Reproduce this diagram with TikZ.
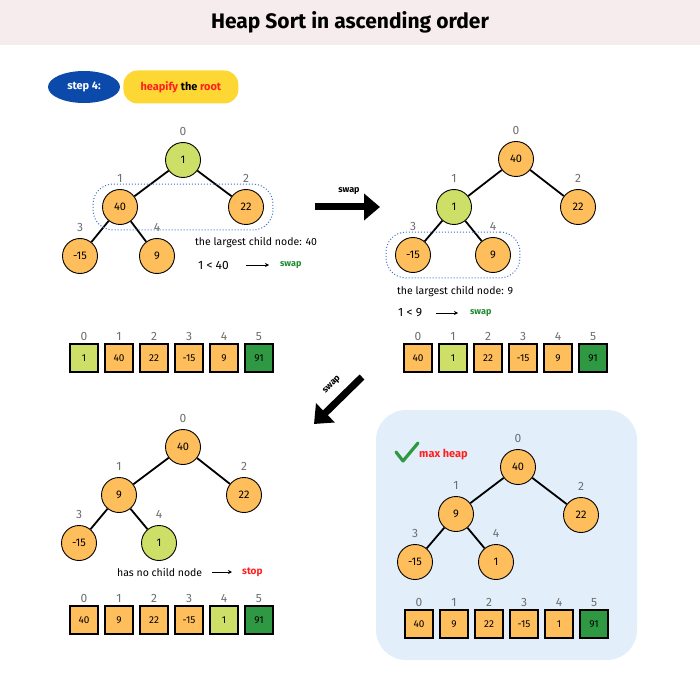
\documentclass[tikz,border=0pt]{standalone}
\usepackage{fontspec}
\setmainfont{Fira Sans}
\usetikzlibrary{calc,positioning,fit,arrows.meta,shapes.geometric}

\definecolor{titlebg}{HTML}{F6ECEE}
\definecolor{stepblue}{HTML}{0B4AAB}
\definecolor{stepyellow}{HTML}{FDD835}
\definecolor{heaporange}{HTML}{FFBE5C}
\definecolor{heaplime}{HTML}{CDDF66}
\definecolor{sortedgreen}{HTML}{2E9942}
\definecolor{panelblue}{HTML}{E3EEFB}
\definecolor{dotblue}{HTML}{3A72CC}
\definecolor{swapgreen}{HTML}{1F8A2F}
\definecolor{stopred}{HTML}{FF1F1F}
\definecolor{idxgray}{HTML}{6E6E6E}

\tikzset{
  hnode/.style={circle, draw=black, line width=0.9pt, fill=heaporange, minimum size=35pt, inner sep=0pt, font=\fontsize{11}{13}\selectfont},
  hlime/.style={hnode, fill=heaplime},
  idx/.style={text=idxgray, font=\fontsize{12}{14}\selectfont, inner sep=1pt},
  cell/.style={draw=black, line width=2.2pt, fill=heaporange, minimum size=28pt, inner sep=0pt, font=\fontsize{10}{12}\selectfont},
  cellime/.style={cell, fill=heaplime},
  celldone/.style={cell, fill=sortedgreen},
  link/.style={line width=1.8pt},
  childbox/.style={draw=dotblue, dotted, line width=1pt, rounded corners=20pt, inner xsep=9pt, inner ysep=5pt},
  note/.style={font=\fontsize{10.5}{12}\selectfont, anchor=west, inner sep=0pt},
  cmp/.style={font=\fontsize{12}{14}\selectfont, anchor=west, inner sep=0pt},
  small/.style={font=\fontsize{9}{11}\selectfont\bfseries, anchor=west, inner sep=0pt},
  thinarrow/.style={-{Stealth[length=4pt,width=4pt]}, line width=0.8pt},
  bigarrow/.style={-{Triangle[length=16pt,width=26pt]}, line width=7pt},
  stepbadge/.style={ellipse, fill=stepblue, text=white, minimum width=72pt, minimum height=32pt, inner sep=0pt, font=\fontsize{11}{13}\selectfont\bfseries},
  taskbox/.style={fill=stepyellow, rounded corners=14pt, minimum width=115pt, minimum height=33pt, inner sep=0pt, font=\fontsize{11}{13}\selectfont\bfseries},
}

\begin{document}
\begin{tikzpicture}[x=1pt, y=-1pt]
  \useasboundingbox (0,0) rectangle (700,700);
  \fill[titlebg] (0,0) rectangle (700,45);
  \node[font=\fontsize{21}{24}\selectfont\bfseries] (title) at (350,22) {Heap Sort in ascending order};

  \node[stepbadge] (step) at (84,87) {step 4:};
  \node[taskbox, right=3pt of step] (task) {\textcolor{stopred}{heapify} the \textcolor{stopred}{root}};

  % tree before the first swap
  \coordinate (originA) at (183,160);
  \node[hlime, label={[idx, label distance=5pt]above:0}] (a0) at (originA) {1};
  \node[hnode, label={[idx, label distance=5pt]above:1}] (a1) at ($(originA) + (-63, 47)$) {40};
  \node[hnode, label={[idx, label distance=5pt]above:2}] (a2) at ($(originA) + (63, 47)$) {22};
  \node[hnode, label={[idx, label distance=5pt]above:3}] (a3) at ($(originA) + (-103, 96)$) {-15};
  \node[hnode, label={[idx, label distance=5pt]above:4}] (a4) at ($(originA) + (-26, 96)$) {9};
  \draw[link] (a0) -- (a1);
  \draw[link] (a0) -- (a2);
  \draw[link] (a1) -- (a3);
  \draw[link] (a1) -- (a4);
  \node[childbox, fit=(a1)(a2)] (kidsA) {};
  \node[note] (largA) at (195,243) {the largest child node: 40};
  \node[cmp] (cmpA) at (198,265) {1 < 40};
  \node[small, text=swapgreen] (resA) at (280,265) {swap};
  \draw[thinarrow, shorten <=17pt, shorten >=11pt] (cmpA) -- (resA);

  % swap arrow to the right
  \coordinate (swapR1) at (315,207);
  \coordinate (swapR2) at (380,207);
  \draw[bigarrow] (swapR1) -- (swapR2);
  \node[small, anchor=center] (swapRlab) at (349,191) {swap};

  % tree after the first swap
  \coordinate (originB) at (516,159);
  \node[hnode, label={[idx, label distance=5pt]above:0}] (b0) at (originB) {40};
  \node[hlime, label={[idx, label distance=5pt]above:1}] (b1) at ($(originB) + (-62, 48)$) {1};
  \node[hnode, label={[idx, label distance=5pt]above:2}] (b2) at ($(originB) + (62, 48)$) {22};
  \node[hnode, label={[idx, label distance=5pt]above:3}] (b3) at ($(originB) + (-103, 96)$) {-15};
  \node[hnode, label={[idx, label distance=5pt]above:4}] (b4) at ($(originB) + (-23, 96)$) {9};
  \draw[link] (b0) -- (b1);
  \draw[link] (b0) -- (b2);
  \draw[link] (b1) -- (b3);
  \draw[link] (b1) -- (b4);
  \node[childbox, fit=(b3)(b4)] (kidsB) {};
  \node[note] (largB) at (397,292) {the largest child node: 9};
  \node[cmp] (cmpB) at (398,313) {1 < 9};
  \node[small, text=swapgreen] (resB) at (470,313) {swap};
  \draw[thinarrow, shorten <=14pt, shorten >=12pt] (cmpB) -- (resB);

  % arrays of the first row
  \node[cellime, label={[idx, label distance=1pt]above:0}] (arrA0) at (84,358) {1};
  \node[cell, label={[idx, label distance=1pt]above:1}] (arrA1) at ($(arrA0) + (35, 0)$) {40};
  \node[cell, label={[idx, label distance=1pt]above:2}] (arrA2) at ($(arrA0) + (70, 0)$) {22};
  \node[cell, label={[idx, label distance=1pt]above:3}] (arrA3) at ($(arrA0) + (105, 0)$) {-15};
  \node[cell, label={[idx, label distance=1pt]above:4}] (arrA4) at ($(arrA0) + (140, 0)$) {9};
  \node[celldone, label={[idx, label distance=1pt]above:5}] (arrA5) at ($(arrA0) + (175, 0)$) {91};

  \node[cell, label={[idx, label distance=1pt]above:0}] (arrB0) at (418,358) {40};
  \node[cellime, label={[idx, label distance=1pt]above:1}] (arrB1) at ($(arrB0) + (35, 0)$) {1};
  \node[cell, label={[idx, label distance=1pt]above:2}] (arrB2) at ($(arrB0) + (70, 0)$) {22};
  \node[cell, label={[idx, label distance=1pt]above:3}] (arrB3) at ($(arrB0) + (105, 0)$) {-15};
  \node[cell, label={[idx, label distance=1pt]above:4}] (arrB4) at ($(arrB0) + (140, 0)$) {9};
  \node[celldone, label={[idx, label distance=1pt]above:5}] (arrB5) at ($(arrB0) + (175, 0)$) {91};

  % swap arrow down to the left
  \coordinate (swapD1) at (362,377);
  \coordinate (swapD2) at (314,424);
  \draw[bigarrow] (swapD1) -- (swapD2);
  \node[small, anchor=center, rotate=45] (swapDlab) at (332,385) {swap};

  % tree after the second swap
  \coordinate (originC) at (183,447);
  \node[hnode, label={[idx, label distance=5pt]above:0}] (c0) at (originC) {40};
  \node[hnode, label={[idx, label distance=5pt]above:1}] (c1) at ($(originC) + (-64, 48)$) {9};
  \node[hnode, label={[idx, label distance=5pt]above:2}] (c2) at ($(originC) + (61, 48)$) {22};
  \node[hnode, label={[idx, label distance=5pt]above:3}] (c3) at ($(originC) + (-104, 96)$) {-15};
  \node[hlime, label={[idx, label distance=5pt]above:4}] (c4) at ($(originC) + (-24, 96)$) {1};
  \draw[link] (c0) -- (c1);
  \draw[link] (c0) -- (c2);
  \draw[link] (c1) -- (c3);
  \draw[link] (c1) -- (c4);
  \node[note] (leafC) at (117,572) {has no child node};
  \node[small, text=stopred, font=\fontsize{10}{12}\selectfont\bfseries] (resC) at (242,572) {stop};
  \draw[thinarrow, shorten <=10pt, shorten >=10pt] (leafC) -- (resC);

  \node[cell, label={[idx, label distance=1pt]above:0}] (arrC0) at (84,620) {40};
  \node[cell, label={[idx, label distance=1pt]above:1}] (arrC1) at ($(arrC0) + (35, 0)$) {9};
  \node[cell, label={[idx, label distance=1pt]above:2}] (arrC2) at ($(arrC0) + (70, 0)$) {22};
  \node[cell, label={[idx, label distance=1pt]above:3}] (arrC3) at ($(arrC0) + (105, 0)$) {-15};
  \node[cellime, label={[idx, label distance=1pt]above:4}] (arrC4) at ($(arrC0) + (140, 0)$) {1};
  \node[celldone, label={[idx, label distance=1pt]above:5}] (arrC5) at ($(arrC0) + (175, 0)$) {91};

  % final max heap
  \fill[panelblue, rounded corners=30pt] (376,410) rectangle (637,660);
  \draw[sortedgreen, line width=3.2pt, line cap=round, line join=round] (396,452) -- (403,461) -- (418,443);
  \node[small, text=stopred, font=\fontsize{11}{13}\selectfont\bfseries] (maxD) at (419,455) {max heap};

  \coordinate (originD) at (518,467);
  \node[hnode, label={[idx, label distance=5pt]above:0}] (d0) at (originD) {40};
  \node[hnode, label={[idx, label distance=5pt]above:1}] (d1) at ($(originD) + (-62, 47)$) {9};
  \node[hnode, label={[idx, label distance=5pt]above:2}] (d2) at ($(originD) + (63, 48)$) {22};
  \node[hnode, label={[idx, label distance=5pt]above:3}] (d3) at ($(originD) + (-103, 95)$) {-15};
  \node[hnode, label={[idx, label distance=5pt]above:4}] (d4) at ($(originD) + (-22, 95)$) {1};
  \draw[link] (d0) -- (d1);
  \draw[link] (d0) -- (d2);
  \draw[link] (d1) -- (d3);
  \draw[link] (d1) -- (d4);

  \node[cell, label={[idx, label distance=1pt]above:0}] (arrD0) at (419,624) {40};
  \node[cell, label={[idx, label distance=1pt]above:1}] (arrD1) at ($(arrD0) + (35, 0)$) {9};
  \node[cell, label={[idx, label distance=1pt]above:2}] (arrD2) at ($(arrD0) + (70, 0)$) {22};
  \node[cell, label={[idx, label distance=1pt]above:3}] (arrD3) at ($(arrD0) + (105, 0)$) {-15};
  \node[cell, label={[idx, label distance=1pt]above:4}] (arrD4) at ($(arrD0) + (140, 0)$) {1};
  \node[celldone, label={[idx, label distance=1pt]above:5}] (arrD5) at ($(arrD0) + (175, 0)$) {91};
\end{tikzpicture}
\end{document}
